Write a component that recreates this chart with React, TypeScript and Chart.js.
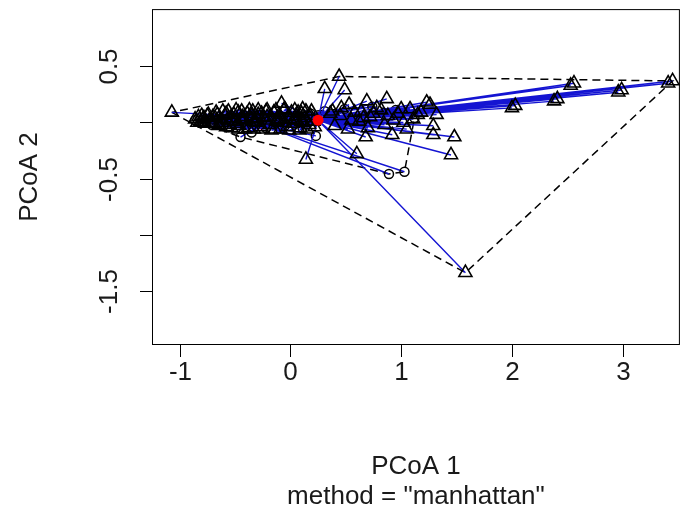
import React, { useEffect, useRef } from "react";
import { Chart, registerables } from "chart.js";

Chart.register(...registerables);

// Group 2 (triangles) site scores on PCoA 1 / PCoA 2
const triX = [
  -1.07, 0.44, 0.31, 0.49, -0.08, 0.53, 0.69, 0.87, 1.23, 2.03,
  2.41, 2.56, 2.99, 3.45, 1.29, 1.02, 1.11, 1.48, 1.29, 0.92,
  0.68, 1.45, 0.60, 0.14, 1.58, 0.45, 0.58, 0.72, 0.82, 0.97,
  1.08, 0.62, 0.85, 0.40, 0.52, 0.36, 0.66, 0.78, 0.93, 1.15,
  -0.86, -0.83, -0.81, -0.78, -0.75, -0.73, -0.70, -0.69, -0.66, -0.63,
  -0.62, -0.59, -0.58, -0.55, -0.54, -0.51, -0.50, -0.47, -0.46, -0.43,
  -0.42, -0.39, -0.38, -0.35, -0.34, -0.31, -0.30, -0.27, -0.26, -0.23,
  -0.22, -0.19, -0.18, -0.15, -0.14, -0.11, -0.10, -0.07, -0.06, -0.03,
  -0.02, 0.01, 0.02, 0.05, 0.06, 0.09, 0.10, 0.13, 0.14, 0.17,
  0.18, 0.21, -0.79, -0.68, -0.57, -0.45, -0.33, -0.21, -0.09, 0.03,
  0.12, -0.64, -0.48, -0.29, -0.13, 0.07, -0.84, -0.80, -0.77, -0.74,
  -0.71, -0.67, -0.65, -0.61, -0.58, -0.56, -0.53, -0.49, -0.47, -0.44,
  -0.41, -0.37, -0.33, -0.29, -0.25, -0.21, -0.17, -0.13, -0.09, -0.05,
  -0.01, 0.04, 0.08, 0.11, 0.15, 0.19, 0.22, -0.35, -0.24, -0.12,
  0.00, 0.10, 0.38, 0.46, 0.55, 0.64, 0.75, 0.88, 1.00, 1.18,
  1.32, 0.70, 1.05, 3.41, 2.96, 2.53, 2.38, 2.00, 1.26,
];
const triY = [
  0.09, 0.41, 0.30, 0.29, 0.17, 0.16, 0.19, 0.21, 0.18, 0.15,
  0.21, 0.35, 0.29, 0.37, -0.03, 0.00, 0.03, -0.13, -0.11, -0.11,
  -0.13, -0.29, -0.28, -0.33, -1.34, 0.06, 0.09, 0.05, 0.11, 0.08,
  0.12, 0.01, -0.02, -0.03, -0.06, 0.08, 0.04, 0.13, 0.02, 0.07,
  0.03, 0.05, 0.01, 0.04, 0.06, 0.02, 0.05, -0.01, 0.07, 0.03,
  0.00, 0.06, 0.08, -0.02, 0.04, 0.07, 0.01, 0.09, -0.03, 0.05,
  0.02, 0.08, -0.05, 0.06, 0.10, 0.00, 0.04, -0.04, 0.08, 0.02,
  0.10, -0.02, 0.05, 0.09, -0.06, 0.03, 0.07, 0.00, 0.11, -0.04,
  0.05, 0.09, -0.01, 0.06, 0.02, -0.05, 0.08, 0.04, 0.10, -0.02,
  0.06, 0.01, 0.03, 0.04, 0.02, 0.03, 0.01, 0.05, 0.03, 0.02,
  0.00, -0.02, -0.01, 0.07, 0.01, 0.09, 0.00, 0.06, -0.01, 0.07,
  0.00, 0.09, -0.03, 0.10, -0.04, 0.10, -0.05, 0.11, -0.06, 0.10,
  -0.06, 0.11, -0.06, 0.11, -0.06, 0.11, -0.07, 0.11, -0.06, 0.12,
  -0.07, 0.11, -0.07, 0.12, -0.06, 0.10, -0.04, 0.03, 0.04, 0.02,
  0.03, 0.01, 0.10, 0.13, 0.02, 0.10, 0.08, 0.06, 0.12, 0.09,
  0.07, -0.05, -0.06, 0.35, 0.27, 0.33, 0.19, 0.13, 0.16,
];

// Group 1 (circles) site scores
const circX = [
  -0.45, -0.35, 0.23, 0.89, 1.03, 1.12,
  -0.86, -0.79, -0.71, -0.63, -0.56, -0.48, -0.41, -0.31, -0.22, -0.14,
  -0.05, 0.04, 0.11, 0.18, 0.31, 0.49, 0.74, 0.95,
];
const circY = [
  -0.13, -0.09, -0.12, -0.46, -0.44, 0.04,
  0.02, 0.00, -0.02, 0.03, -0.04, 0.01, 0.04, -0.01, -0.05, 0.02,
  -0.03, 0.00, -0.05, 0.08, 0.10, 0.12, 0.14, 0.11,
];

// Group centroids: [triangles, circles]
const centroidX = [0.25, -0.26];
const centroidY = [0.02, -0.02];

const xTicks = [-1, 0, 1, 2, 3];
const xTickLabels = ["-1", "0", "1", "2", "3"];
const yTicks = [-1.5, -1, -0.5, 0, 0.5];
const yTickLabels = ["-1.5", "", "-0.5", "", "0.5"];
const xTitle = "PCoA 1";
const subTitle = 'method = "manhattan"';
const yTitle = "PCoA 2";

type P = { x: number; y: number };

function hull(pts: P[]): P[] {
  const s = [...pts].sort((a, b) => a.x - b.x || a.y - b.y);
  const cross = (o: P, a: P, b: P) => (a.x - o.x) * (b.y - o.y) - (a.y - o.y) * (b.x - o.x);
  const lower: P[] = [];
  for (const p of s) {
    while (lower.length >= 2 && cross(lower[lower.length - 2], lower[lower.length - 1], p) <= 0) lower.pop();
    lower.push(p);
  }
  const upper: P[] = [];
  for (let i = s.length - 1; i >= 0; i--) {
    const p = s[i];
    while (upper.length >= 2 && cross(upper[upper.length - 2], upper[upper.length - 1], p) <= 0) upper.pop();
    upper.push(p);
  }
  upper.pop();
  lower.pop();
  const h = lower.concat(upper);
  h.push(h[0]);
  return h;
}

function segs(xs: number[], ys: number[], cx: number, cy: number) {
  const out: any[] = [];
  xs.forEach((x, i) => {
    out.push({ x, y: ys[i] });
    out.push({ x: cx, y: cy });
    out.push({ x: cx, y: null });
  });
  return out;
}

const FONT = '26px "Liberation Sans", Arial, Helvetica, sans-serif';

const axesPlugin = {
  id: "rAxes",
  afterDraw(chart: any) {
    const { ctx, chartArea: a, scales } = chart;
    const xs = scales.x;
    const ys = scales.y;
    ctx.save();
    ctx.strokeStyle = "#000";
    ctx.lineWidth = 1;
    ctx.setLineDash([]);
    ctx.strokeRect(a.left + 0.5, a.top + 0.5, a.right - a.left - 1, a.bottom - a.top - 1);
    const tick = 12;
    ctx.fillStyle = "#1a1a1a";
    ctx.font = FONT;
    ctx.textAlign = "center";
    ctx.textBaseline = "middle";
    xTicks.forEach((v, i) => {
      const px = Math.round(xs.getPixelForValue(v)) + 0.5;
      ctx.beginPath();
      ctx.moveTo(px, a.bottom);
      ctx.lineTo(px, a.bottom + tick);
      ctx.stroke();
      ctx.fillText(xTickLabels[i], px, 373);
    });
    yTicks.forEach((v, i) => {
      const py = Math.round(ys.getPixelForValue(v)) + 0.5;
      ctx.beginPath();
      ctx.moveTo(a.left, py);
      ctx.lineTo(a.left - tick, py);
      ctx.stroke();
      if (yTickLabels[i]) {
        ctx.save();
        ctx.translate(110, py);
        ctx.rotate(-Math.PI / 2);
        ctx.fillText(yTickLabels[i], 0, 0);
        ctx.restore();
      }
    });
    const cx = (a.left + a.right) / 2;
    ctx.fillText(xTitle, cx, 467);
    ctx.fillText(subTitle, cx, 497);
    ctx.save();
    ctx.translate(30, (a.top + a.bottom) / 2);
    ctx.rotate(-Math.PI / 2);
    ctx.fillText(yTitle, 0, 0);
    ctx.restore();
    ctx.restore();
  },
};

export default function App() {
  const ref = useRef<HTMLCanvasElement>(null);
  useEffect(() => {
    if (!ref.current) return;
    const tri: P[] = triX.map((x, i) => ({ x, y: triY[i] }));
    const circ: P[] = circX.map((x, i) => ({ x, y: circY[i] }));
    const segColor = "#1414d2";
    const chart = new Chart(ref.current, {
      type: "scatter",
      data: {
        datasets: [
          {
            data: hull(tri),
            showLine: true,
            borderColor: "#000",
            borderWidth: 1.5,
            borderDash: [8, 5],
            pointRadius: 0,
            order: 9,
          } as any,
          {
            data: hull(circ),
            showLine: true,
            borderColor: "#000",
            borderWidth: 1.5,
            borderDash: [8, 5],
            pointRadius: 0,
            order: 9,
          },
          {
            data: [{ x: centroidX[1], y: centroidY[1] }],
            pointStyle: "circle",
            pointRadius: 5,
            pointBackgroundColor: "#ff0000",
            pointBorderColor: "#ff0000",
            pointBorderWidth: 0,
            order: 8,
          },
          {
            data: segs(circX, circY, centroidX[1], centroidY[1]),
            showLine: true,
            spanGaps: false,
            borderColor: segColor,
            borderWidth: 1.4,
            pointRadius: 0,
            order: 7,
          },
          {
            data: circ,
            pointStyle: "circle",
            pointRadius: 4.5,
            pointBackgroundColor: "rgba(0,0,0,0)",
            pointBorderColor: "#000",
            pointBorderWidth: 1.5,
            order: 6,
          },
          {
            data: segs(triX, triY, centroidX[0], centroidY[0]),
            showLine: true,
            spanGaps: false,
            borderColor: segColor,
            borderWidth: 1.4,
            pointRadius: 0,
            order: 5,
          },
          {
            data: tri,
            pointStyle: "triangle",
            pointRadius: 7.5,
            pointBackgroundColor: "rgba(0,0,0,0)",
            pointBorderColor: "#000",
            pointBorderWidth: 1.6,
            order: 4,
          },
          {
            data: [{ x: centroidX[0], y: centroidY[0] }],
            pointStyle: "circle",
            pointRadius: 5.5,
            pointBackgroundColor: "#ff0000",
            pointBorderColor: "#ff0000",
            pointBorderWidth: 0,
            order: 1,
          },
        ],
      },
      options: {
        responsive: false,
        animation: false,
        devicePixelRatio: 1,
        events: [],
        layout: { padding: { left: 152, right: 1, top: 5, bottom: 180 } },
        plugins: { legend: { display: false }, tooltip: { enabled: false } },
        elements: { line: { tension: 0 } },
        scales: {
          x: { type: "linear", min: -1.249, max: 3.516, display: false },
          y: { type: "linear", min: -1.985, max: 1.011, display: false },
        },
      },
      plugins: [axesPlugin],
    });
    return () => chart.destroy();
  }, []);
  return (
    <div style={{ position: "absolute", left: 0, top: 0, width: 689, height: 525, background: "#fff" }}>
      <canvas ref={ref} width={689} height={525} style={{ display: "block" }} />
    </div>
  );
}
